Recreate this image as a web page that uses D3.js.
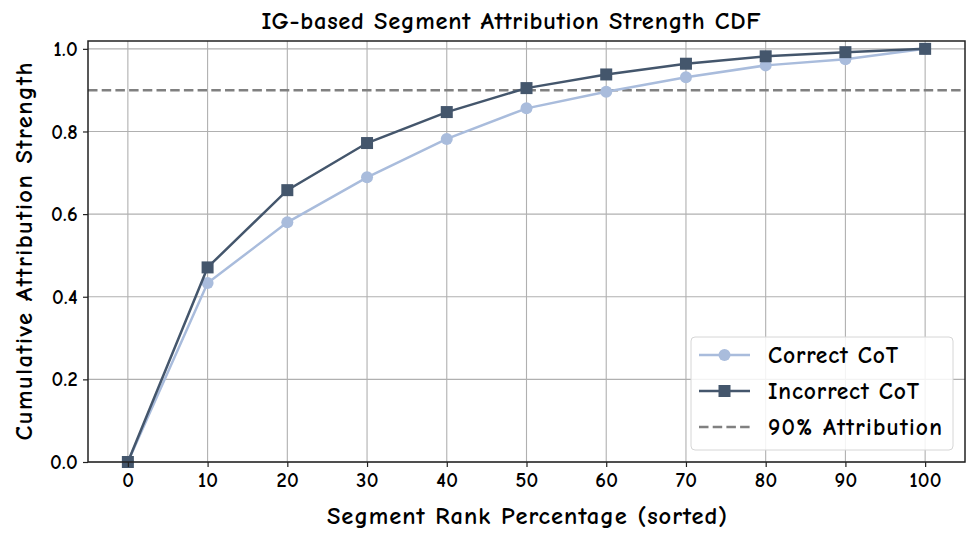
<!DOCTYPE html>
<html>
<head>
<meta charset="utf-8">
<script src="https://cdn.jsdelivr.net/npm/d3@7"></script>
<style>
  body { margin: 0; background: #fff; }
  svg text { font-family: "Comic Sans MS", "Comic Neue", "Humor Sans", "DejaVu Sans", sans-serif; fill: #000; }
</style>
</head>
<body>
<svg id="chart" width="977" height="543"></svg>
<script>
// data
const rankPct = [0, 10, 20, 30, 40, 50, 60, 70, 80, 90, 100];
const correctCot = [0, 0.433, 0.580, 0.689, 0.782, 0.856, 0.896, 0.931, 0.960, 0.975, 1.0];
const incorrectCot = [0, 0.471, 0.658, 0.772, 0.847, 0.905, 0.938, 0.964, 0.982, 0.992, 1.0];
const xTicks = [0, 10, 20, 30, 40, 50, 60, 70, 80, 90, 100];
const yTicks = [0, 0.2, 0.4, 0.6, 0.8, 1.0];
const threshold = 0.9;

const colCorrect = "#a9bcdc";
const colIncorrect = "#44566c";
const dash = "9.5,4.2";

const margin = { left: 88, right: 12, top: 41, bottom: 81 };
const W = 977, H = 543;
const svg = d3.select("#chart");

const x = d3.scaleLinear().domain([-5, 105]).range([margin.left, W - margin.right]);
const y = d3.scaleLinear().domain([0, 1.019]).range([H - margin.bottom, margin.top]);

// grid
svg.append("g").selectAll("line.gx")
  .data(xTicks).join("line")
  .attr("x1", d => x(d)).attr("x2", d => x(d))
  .attr("y1", y.range()[1]).attr("y2", y.range()[0])
  .attr("stroke", "#b0b0b0").attr("stroke-width", 1.1);
svg.append("g").selectAll("line.gy")
  .data(yTicks).join("line")
  .attr("x1", x.range()[0]).attr("x2", x.range()[1])
  .attr("y1", d => y(d)).attr("y2", d => y(d))
  .attr("stroke", "#b0b0b0").attr("stroke-width", 1.1);

// 90% line
svg.append("line")
  .attr("x1", x.range()[0]).attr("x2", x.range()[1])
  .attr("y1", y(threshold)).attr("y2", y(threshold))
  .attr("stroke", "#808080").attr("stroke-width", 2.5)
  .attr("stroke-dasharray", dash);

const line = d3.line().x((d, i) => x(rankPct[i])).y(d => y(d));

// correct series
svg.append("path").datum(correctCot)
  .attr("d", line).attr("fill", "none")
  .attr("stroke", colCorrect).attr("stroke-width", 2.5);
svg.append("g").selectAll("circle")
  .data(correctCot).join("circle")
  .attr("cx", (d, i) => x(rankPct[i])).attr("cy", d => y(d))
  .attr("r", 6).attr("fill", colCorrect);

// incorrect series
svg.append("path").datum(incorrectCot)
  .attr("d", line).attr("fill", "none")
  .attr("stroke", colIncorrect).attr("stroke-width", 2.5);
svg.append("g").selectAll("rect")
  .data(incorrectCot).join("rect")
  .attr("x", (d, i) => x(rankPct[i]) - 6).attr("y", d => y(d) - 6)
  .attr("width", 12).attr("height", 12).attr("fill", colIncorrect);

// axes
const xAxis = d3.axisBottom(x).tickValues(xTicks).tickSize(5).tickPadding(5).tickFormat(d3.format("d"));
const yAxis = d3.axisLeft(y).tickValues(yTicks).tickSize(5).tickPadding(5).tickFormat(d3.format(".1f"));

const gx = svg.append("g").attr("transform", `translate(0,${y.range()[0]})`).call(xAxis);
const gy = svg.append("g").attr("transform", `translate(${x.range()[0]},0)`).call(yAxis);
[gx, gy].forEach(g => {
  g.select(".domain").remove();
  g.selectAll(".tick line").attr("stroke", "#222").attr("stroke-width", 1.2);
  g.selectAll(".tick text").attr("font-size", 20.5).attr("font-weight", "bold")
    .attr("letter-spacing", 0.3).style("fill", "#000");
});

// frame
svg.append("rect")
  .attr("x", x.range()[0]).attr("y", y.range()[1])
  .attr("width", x.range()[1] - x.range()[0]).attr("height", y.range()[0] - y.range()[1])
  .attr("fill", "none").attr("stroke", "#222").attr("stroke-width", 1.5);

// titles
const plotCy = (y.range()[0] + y.range()[1]) / 2;
svg.append("text").attr("x", 511).attr("y", 29)
  .attr("text-anchor", "middle").attr("font-size", 24.5).attr("font-weight", "bold")
  .attr("textLength", 499).attr("lengthAdjust", "spacing")
  .text("IG-based Segment Attribution Strength CDF");
svg.append("text").attr("x", 527).attr("y", 524)
  .attr("text-anchor", "middle").attr("font-size", 24.5).attr("font-weight", "bold")
  .attr("textLength", 400).attr("lengthAdjust", "spacing")
  .text("Segment Rank Percentage (sorted)");
svg.append("text")
  .attr("transform", `translate(32,${plotCy}) rotate(-90)`)
  .attr("text-anchor", "middle").attr("font-size", 24.5).attr("font-weight", "bold")
  .attr("textLength", 378).attr("lengthAdjust", "spacing")
  .text("Cumulative Attribution Strength");

// legend
const legendItems = [
  { label: "Correct CoT", color: colCorrect, marker: "circle", dash: null, len: 130 },
  { label: "Incorrect CoT", color: colIncorrect, marker: "square", dash: null, len: 151 },
  { label: "90% Attribution", color: "#808080", marker: null, dash: dash, len: 174 }
];
const lg = svg.append("g").attr("transform", "translate(691,337)");
lg.append("rect").attr("width", 262).attr("height", 113).attr("rx", 4)
  .attr("fill", "#fff").attr("fill-opacity", 0.85)
  .attr("stroke", "#d6d6d6").attr("stroke-width", 1);
legendItems.forEach((it, i) => {
  const cy = 18 + i * 36;
  const row = lg.append("g").attr("transform", `translate(0,${cy})`);
  row.append("line").attr("x1", 8).attr("x2", 59).attr("y1", 0).attr("y2", 0)
    .attr("stroke", it.color).attr("stroke-width", 2.5)
    .attr("stroke-dasharray", it.dash);
  if (it.marker === "circle") {
    row.append("circle").attr("cx", 33.5).attr("cy", 0).attr("r", 6).attr("fill", it.color);
  } else if (it.marker === "square") {
    row.append("rect").attr("x", 27.5).attr("y", -6).attr("width", 12).attr("height", 12).attr("fill", it.color);
  }
  row.append("text").attr("x", 77).attr("y", 0).attr("dy", "0.36em")
    .attr("font-size", 23.5).attr("font-weight", "bold")
    .attr("textLength", it.len).attr("lengthAdjust", "spacing")
    .text(it.label);
});
</script>
</body>
</html>
